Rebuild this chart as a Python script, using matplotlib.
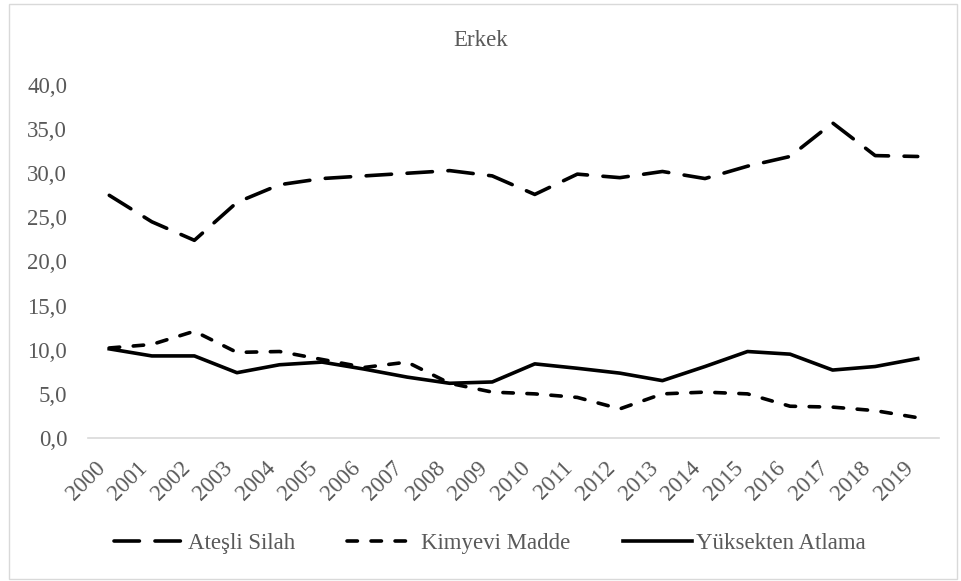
import matplotlib
matplotlib.use("Agg")
import matplotlib.pyplot as plt
import matplotlib.transforms as mtransforms
from matplotlib.patches import Rectangle

years = [str(y) for y in range(2000, 2020)]

atesli_silah = [27.5, 24.5, 22.4, 26.7, 28.7, 29.4, 29.7, 30.0, 30.3, 29.7,
                27.6, 29.9, 29.5, 30.2, 29.4, 30.8, 31.9, 35.7, 32.0, 31.9]
kimyevi_madde = [10.2, 10.6, 12.1, 9.7, 9.8, 8.9, 8.0, 8.6, 6.2, 5.2,
                 5.0, 4.6, 3.3, 5.0, 5.2, 5.0, 3.6, 3.5, 3.1, 2.3]
yuksekten_atlama = [10.1, 9.3, 9.3, 7.4, 8.3, 8.6, 7.8, 6.9, 6.2, 6.35,
                    8.4, 7.9, 7.35, 6.5, 8.1, 9.8, 9.5, 7.7, 8.1, 9.0]

series_names = ["Ateşli Silah", "Kimyevi Madde", "Yüksekten Atlama"]

plt.rcParams["font.family"] = ["Liberation Serif", "DejaVu Serif"]
plt.rcParams["lines.scale_dashes"] = False

text_col = "#595959"
grid_col = "#D9D9D9"
fsize = 16.5
lw = 2.6

fig = plt.figure(figsize=(9.61, 5.81), dpi=100)
ax = fig.add_axes([88 / 961, 1 - 438 / 581, 851 / 961, (438 - 85) / 581])

x = range(len(years))
ax.plot(x, atesli_silah, color="black", lw=lw, linestyle=(0, (18.3, 11.2)),
        dash_capstyle="round", solid_capstyle="round", label=series_names[0])
ax.plot(x, kimyevi_madde, color="black", lw=lw, linestyle=(0, (7.5, 9.8)),
        dash_capstyle="round", solid_capstyle="round", label=series_names[1])
ax.plot(x, yuksekten_atlama, color="black", lw=lw, linestyle="-",
        solid_joinstyle="round", label=series_names[2])

ax.set_xlim(-0.5, len(years) - 0.5)
ax.set_ylim(0, 40)
ax.set_yticks(range(0, 41, 5))
ax.set_yticklabels([f"{v:.1f}".replace(".", ",") for v in range(0, 41, 5)])
ax.set_xticks(list(x))
ax.set_xticklabels(years, rotation=45, ha="right", va="top")

# nudge the rotated year labels a bit to the right
offset = mtransforms.ScaledTranslation(4 / 100, 0, fig.dpi_scale_trans)
for lab in ax.get_xticklabels():
    lab.set_transform(lab.get_transform() + offset)

ax.tick_params(axis="both", length=0, labelsize=fsize, labelcolor=text_col)
ax.tick_params(axis="y", pad=15)
ax.tick_params(axis="x", pad=14)

for side in ["top", "right", "left"]:
    ax.spines[side].set_visible(False)
ax.spines["bottom"].set_color(grid_col)
ax.spines["bottom"].set_linewidth(1.2)

fig.text(0.5, 1 - 40 / 581, "Erkek", ha="center", va="center",
         fontsize=fsize, color=text_col)

leg = fig.legend(loc="center", bbox_to_anchor=(490 / 961, 1 - 543 / 581), ncol=3,
                 frameon=False, fontsize=fsize, handlelength=3.0,
                 handletextpad=0.2, columnspacing=2.3, borderaxespad=0)
for t in leg.get_texts():
    t.set_color(text_col)

# chart area border
fig.patches.append(Rectangle((9 / 961, 1 - 579 / 581), (957 - 9) / 961, (579 - 4) / 581,
                             transform=fig.transFigure, fill=False,
                             edgecolor=grid_col, linewidth=1.0))

fig.savefig("out.png", dpi=100)
